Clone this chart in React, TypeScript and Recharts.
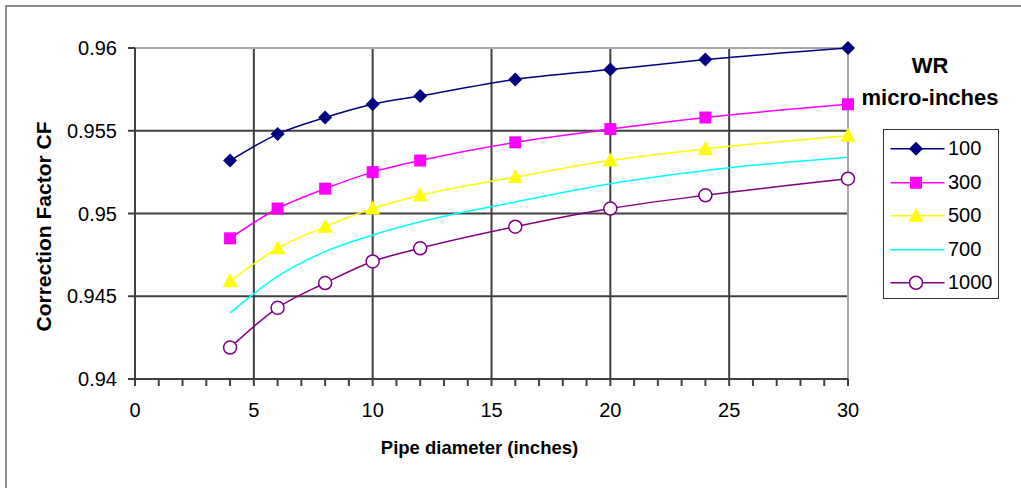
import React from 'react';
import {
  LineChart,
  Line,
  XAxis,
  YAxis,
  Legend,
  ReferenceLine,
  Label,
} from 'recharts';

const FONT = '"Liberation Sans", Arial, sans-serif';

// pipe diameters (inches)
const DIAMETERS = [4, 6, 8, 10, 12, 16, 20, 24, 30];

// correction factor per wall roughness (micro-inches)
const WR_100 = [0.9532, 0.9548, 0.9558, 0.9566, 0.9571, 0.9581, 0.9587, 0.9593, 0.96];
const WR_300 = [0.9485, 0.9503, 0.9515, 0.9525, 0.9532, 0.9543, 0.9551, 0.9558, 0.9566];
const WR_500 = [0.9459, 0.9479, 0.9492, 0.9503, 0.9511, 0.9522, 0.9532, 0.9539, 0.9547];
const WR_700 = [0.944, 0.9462, 0.9477, 0.9487, 0.9495, 0.9507, 0.9518, 0.9526, 0.9534];
const WR_1000 = [0.9419, 0.9443, 0.9458, 0.9471, 0.9479, 0.9492, 0.9503, 0.9511, 0.9521];

const X_TICKS = Array.from({ length: 31 }, (_, i) => i);
const Y_TICKS = [0.94, 0.945, 0.95, 0.955, 0.96];
const X_GRID = [5, 10, 15, 20, 25];
const Y_GRID = [0.945, 0.95, 0.955];

type Shape = 'diamond' | 'square' | 'triangle' | 'none' | 'circle';

const SERIES: { key: string; name: string; color: string; shape: Shape; values: number[] }[] = [
  { key: 'wr100', name: '100', color: '#000080', shape: 'diamond', values: WR_100 },
  { key: 'wr300', name: '300', color: '#ff00ff', shape: 'square', values: WR_300 },
  { key: 'wr500', name: '500', color: '#ffff00', shape: 'triangle', values: WR_500 },
  { key: 'wr700', name: '700', color: '#00ffff', shape: 'none', values: WR_700 },
  { key: 'wr1000', name: '1000', color: '#800080', shape: 'circle', values: WR_1000 },
];

const data = DIAMETERS.map((d, i) => {
  const row: Record<string, number> = { d };
  SERIES.forEach((s) => {
    row[s.key] = s.values[i];
  });
  return row;
});

function Marker({ shape, cx, cy, color }: { shape: Shape; cx: number; cy: number; color: string }) {
  if (shape === 'diamond') {
    return <polygon points={`${cx},${cy - 7} ${cx + 7},${cy} ${cx},${cy + 7} ${cx - 7},${cy}`} fill={color} />;
  }
  if (shape === 'square') {
    return <rect x={cx - 6} y={cy - 6} width={12} height={12} fill={color} />;
  }
  if (shape === 'triangle') {
    return <polygon points={`${cx},${cy - 8} ${cx + 7.5},${cy + 6} ${cx - 7.5},${cy + 6}`} fill={color} />;
  }
  if (shape === 'circle') {
    return <circle cx={cx} cy={cy} r={6.5} fill="#fff" stroke={color} strokeWidth={1.5} />;
  }
  return null;
}

function LegendBox({ payload }: any) {
  // keep the series order, the payload comes back sorted by name
  const keys = (payload || []).map((p: any) => p.dataKey);
  const items = SERIES.filter((s) => keys.includes(s.key));
  return (
    <div style={{ width: 160, fontFamily: FONT }}>
      <div style={{ textAlign: 'center', fontWeight: 'bold', fontSize: 22, lineHeight: '32px', color: '#000' }}>
        WR
        <br />
        micro-inches
      </div>
      <div
        style={{
          marginTop: 15,
          marginLeft: 33,
          width: 116,
          height: 170,
          boxSizing: 'border-box',
          border: '1.5px solid #333',
          paddingTop: 2,
        }}
      >
        {items.map((s) => (
          <div key={s.key} style={{ display: 'flex', alignItems: 'center', height: 33.5 }}>
            <svg width={64} height={33.5} style={{ display: 'block' }}>
              <line x1={6.5} y1={16.75} x2={60.5} y2={16.75} stroke={s.color} strokeWidth={1.5} />
              <Marker shape={s.shape} cx={32} cy={16.75} color={s.color} />
            </svg>
            <span style={{ fontSize: 20, color: '#000', lineHeight: '33.5px' }}>{s.name}</span>
          </div>
        ))}
      </div>
    </div>
  );
}

export default function App() {
  return (
    <div style={{ position: 'absolute', left: 0, top: 0, width: 1021, height: 488, overflow: 'hidden', background: '#fff' }}>
      {/* outer chart-area frame, only its top and left edges fall inside the page */}
      <div
        style={{
          position: 'absolute',
          left: 5,
          top: 5,
          width: 1100,
          height: 600,
          borderLeft: '2px solid #8c8c8c',
          borderTop: '2px solid #8c8c8c',
        }}
      />
      <div style={{ position: 'absolute', left: 0, top: 0 }}>
        <LineChart width={1021} height={488} data={data} margin={{ top: 48, right: 173, bottom: 49, left: 0 }}>
          <XAxis
            dataKey="d"
            type="number"
            domain={[0, 30]}
            ticks={X_TICKS}
            interval={0}
            tickFormatter={(v: number) => (v % 5 === 0 ? String(v) : '')}
            tickSize={7}
            tickMargin={17}
            height={60}
            stroke="#404040"
            strokeWidth={2}
            tick={{ fill: '#000', fontSize: 20, fontFamily: FONT }}
          >
            <Label
              content={({ viewBox }: any) => (
                <text
                  x={viewBox.x + viewBox.width / 2 - 12}
                  y={viewBox.y + 68}
                  textAnchor="middle"
                  dominantBaseline="central"
                  fontFamily={FONT}
                  fontWeight="bold"
                  fontSize={18.5}
                  fill="#000"
                >
                  Pipe diameter (inches)
                </text>
              )}
            />
          </XAxis>
          <YAxis
            type="number"
            domain={[0.94, 0.96]}
            ticks={Y_TICKS}
            interval={0}
            width={135}
            tickSize={7}
            tickMargin={11}
            stroke="#404040"
            strokeWidth={2}
            tick={{ fill: '#000', fontSize: 20, fontFamily: FONT }}
          >
            <Label
              content={({ viewBox }: any) => {
                const x = viewBox.x + 43;
                const y = viewBox.y + viewBox.height / 2 + 13;
                return (
                  <text
                    x={x}
                    y={y}
                    transform={`rotate(-90, ${x}, ${y})`}
                    textAnchor="middle"
                    dominantBaseline="central"
                    fontFamily={FONT}
                    fontWeight="bold"
                    fontSize={21}
                    fill="#000"
                  >
                    Correction Factor CF
                  </text>
                );
              }}
            />
          </YAxis>
          {Y_GRID.map((v) => (
            <ReferenceLine key={`h${v}`} y={v} stroke="#404040" strokeWidth={2} />
          ))}
          {X_GRID.map((v) => (
            <ReferenceLine key={`v${v}`} x={v} stroke="#404040" strokeWidth={2} />
          ))}
          <ReferenceLine y={0.96} stroke="#a6a6a6" strokeWidth={2} />
          <ReferenceLine x={30} stroke="#a6a6a6" strokeWidth={2} />
          <Legend
            layout="horizontal"
            align="center"
            verticalAlign="middle"
            wrapperStyle={{ left: 850, top: 50, width: 160 }}
            content={<LegendBox />}
          />
          {SERIES.map((s) => (
            <Line
              key={s.key}
              dataKey={s.key}
              name={s.name}
              type="monotone"
              stroke={s.color}
              strokeWidth={1.5}
              isAnimationActive={false}
              dot={
                s.shape === 'none'
                  ? false
                  : (p: any) => <Marker key={`${s.key}-${p.index}`} shape={s.shape} cx={p.cx} cy={p.cy} color={s.color} />
              }
              activeDot={false}
            />
          ))}
        </LineChart>
      </div>
    </div>
  );
}
